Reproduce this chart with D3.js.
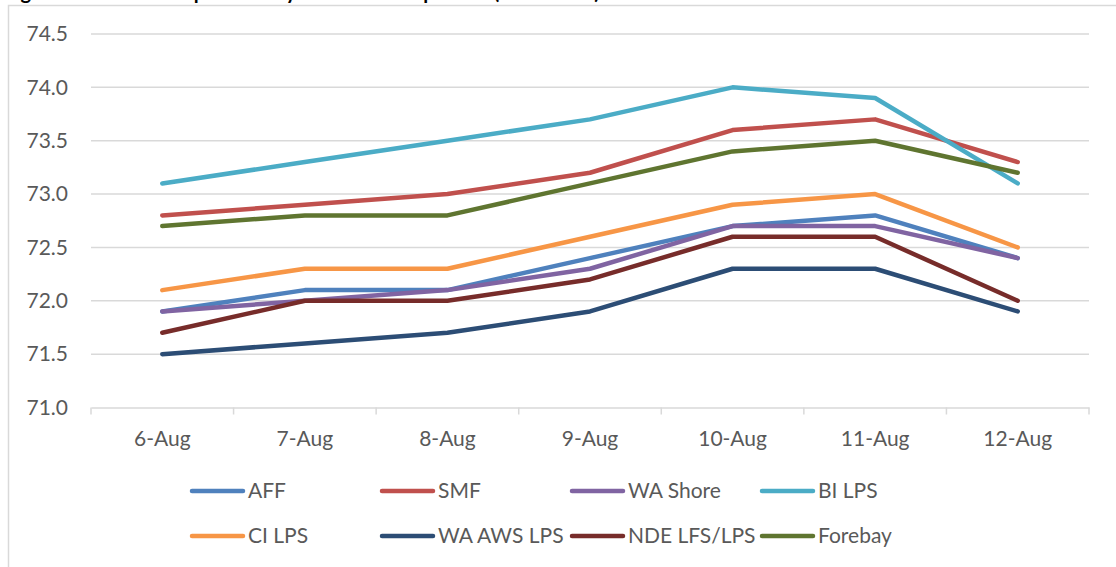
<!DOCTYPE html>
<html><head><meta charset="utf-8">
<script src="https://cdn.jsdelivr.net/npm/d3@7/dist/d3.min.js"></script>
<style>body{margin:0;background:#fff}svg{display:block}</style>
</head><body>
<svg id="c" width="1116" height="567"></svg>
<script>
const categories = ["6-Aug","7-Aug","8-Aug","9-Aug","10-Aug","11-Aug","12-Aug"];
const seriesNames = ["AFF","SMF","WA Shore","BI LPS","CI LPS","WA AWS LPS","NDE LFS/LPS","Forebay"];
const AFF      = [71.9, 72.1, 72.1, 72.4, 72.7, 72.8, 72.4];
const SMF      = [72.8, 72.9, 73.0, 73.2, 73.6, 73.7, 73.3];
const WAShore  = [71.9, 72.0, 72.1, 72.3, 72.7, 72.7, 72.4];
const BILPS    = [73.1, 73.3, 73.5, 73.7, 74.0, 73.9, 73.1];
const CILPS    = [72.1, 72.3, 72.3, 72.6, 72.9, 73.0, 72.5];
const WAAWSLPS = [71.5, 71.6, 71.7, 71.9, 72.3, 72.3, 71.9];
const NDELFS   = [71.7, 72.0, 72.0, 72.2, 72.6, 72.6, 72.0];
const Forebay  = [72.7, 72.8, 72.8, 73.1, 73.4, 73.5, 73.2];
const yTicks = [71.0, 71.5, 72.0, 72.5, 73.0, 73.5, 74.0, 74.5];
const colors = ["#4F81BD","#C0504D","#8064A2","#4BACC6","#F79646","#2C4D75","#772C2A","#5F7530"];
const title = "Figure 12. Water Temperature by Location Comparison (Fahrenheit)";

const values = [AFF, SMF, WAShore, BILPS, CILPS, WAAWSLPS, NDELFS, Forebay];
const series = seriesNames.map((n,i)=>({name:n, values:values[i], color:colors[i]}));

const svg = d3.select("#c");
const font = "Lato, 'Liberation Sans', sans-serif";
const fs = 21;
const L = 91, R = 1089, T = 34, B = 407.5;

// clipped title (cut by the top edge, as in the reference)
svg.append("text").attr("x", 4).attr("y", -1).attr("font-family", font)
  .attr("font-weight", "bold").attr("font-size", 20).attr("fill", "#000").text(title);

// frame
svg.append("rect").attr("x", 8.5).attr("y", 5.5).attr("width", 1200).attr("height", 700)
  .attr("fill", "none").attr("stroke", "#d9d9d9").attr("stroke-width", 1.5);

const x = d3.scaleBand().domain(categories).range([L, R]);
const y = d3.scaleLinear().domain([71, 74.5]).range([B, T]);

// gridlines
svg.append("g").selectAll("line").data(yTicks.slice(1)).join("line")
  .attr("x1", L).attr("x2", R).attr("y1", d=>y(d)).attr("y2", d=>y(d))
  .attr("stroke", "#d9d9d9").attr("stroke-width", 1.5);

// y axis labels
const ya = svg.append("g").attr("transform", `translate(${L},0)`)
  .call(d3.axisLeft(y).tickValues(yTicks).tickFormat(d3.format(".1f")).tickSize(0).tickPadding(23));
ya.select(".domain").remove();
ya.selectAll("text").attr("font-family", font).attr("font-size", fs).attr("fill", "#595959");

// x axis
const xa = svg.append("g").attr("transform", `translate(0,${B})`)
  .call(d3.axisBottom(x).tickSize(0).tickPadding(24));
xa.select(".domain").attr("stroke", "#d9d9d9").attr("stroke-width", 1.5);
xa.selectAll("text").attr("font-family", font).attr("font-size", fs).attr("fill", "#595959");
const bounds = categories.map(c=>x(c)).concat([R]);
svg.append("g").selectAll("line").data(bounds).join("line")
  .attr("x1", d=>d).attr("x2", d=>d).attr("y1", B).attr("y2", B+7)
  .attr("stroke", "#d9d9d9").attr("stroke-width", 1.5);

// lines
const line = d3.line().x((d,i)=>x(categories[i]) + x.bandwidth()/2).y(d=>y(d));
svg.append("g").selectAll("path").data(series).join("path")
  .attr("d", d=>line(d.values)).attr("fill", "none").attr("stroke", d=>d.color)
  .attr("stroke-width", 4.5).attr("stroke-linecap", "round").attr("stroke-linejoin", "round");

// legend
const lg = svg.append("g");
series.forEach((s,i)=>{
  const col = i % 4, row = Math.floor(i/4);
  const lx = 190 + col*190, ly = 491 + row*45;
  lg.append("line").attr("x1", lx+2).attr("x2", lx+53).attr("y1", ly).attr("y2", ly)
    .attr("stroke", s.color).attr("stroke-width", 4.5).attr("stroke-linecap", "round");
  lg.append("text").attr("x", lx+58).attr("y", ly).attr("dy", "0.35em")
    .attr("font-family", font).attr("font-size", fs).attr("fill", "#595959").text(s.name);
});
</script>
</body></html>
